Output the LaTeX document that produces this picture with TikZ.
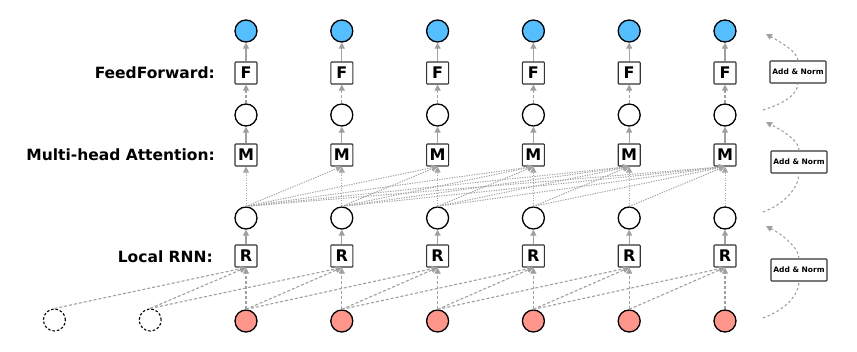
\documentclass[tikz,border=0pt]{standalone}
\usepackage{fontspec}
\setmainfont{DejaVu Sans}
\usetikzlibrary{arrows.meta}
\definecolor{bluec}{RGB}{85,190,255}
\definecolor{pinkc}{RGB}{255,150,140}
\definecolor{arr}{RGB}{160,160,160}
\definecolor{arrl}{RGB}{165,165,165}
\begin{document}
\begin{tikzpicture}[x=1pt,y=-1pt,
 circ/.style={circle,draw=black,line width=1.3pt,minimum size=22pt,inner sep=0pt,fill=white},
 dcirc/.style={circle,draw=black,line width=1.1pt,minimum size=22pt,inner sep=0pt,dash pattern=on 2.5pt off 2pt},
 opbox/.style={draw=black!80,line width=1.1pt,minimum size=22pt,inner sep=0pt,fill=white,rounded corners=0.8pt,font=\fontsize{16}{16}\selectfont\bfseries},
 lab/.style={anchor=east,inner sep=0pt,font=\fontsize{15.5}{16}\selectfont\bfseries},
 anbox/.style={draw=black!80,line width=1.1pt,minimum width=56pt,minimum height=22pt,inner sep=0pt,fill=white,rounded corners=0.8pt,font=\fontsize{7.5}{8}\selectfont\bfseries},
 tip/.style={-{Triangle[length=6pt,width=6pt]}},
 solidarr/.style={tip,draw=arr,line width=1.2pt},
 dasharr/.style={tip,draw=arr,line width=1.1pt,dash pattern=on 3pt off 2pt},
 dotarr/.style={tip,draw=arrl,line width=1pt,dash pattern=on 1.3pt off 1.2pt},
 curvarr/.style={draw=arr,line width=1.1pt,dash pattern=on 2.5pt off 2.5pt},
]
\useasboundingbox (0,0) rectangle (857,351);

% dashed padding circles
\node[dcirc] (p1) at (54.4,320) {};
\node[dcirc] (p2) at (150.2,320) {};

% columns
\foreach \k in {3,...,8}{
  \pgfmathsetmacro\xx{54.4+95.8*(\k-1)}
  \node[circ,fill=pinkc] (p\k) at (\xx,321) {};
  \node[opbox] (r\k) at (\xx,256) {R};
  \node[circ] (h\k) at (\xx,218) {};
  \node[opbox] (m\k) at (\xx,155) {M};
  \node[circ] (w\k) at (\xx,115) {};
  \node[opbox] (f\k) at (\xx,73) {F};
  \node[circ,fill=bluec] (b\k) at (\xx,31) {};
}

% labels
\node[lab] (lff) at (215,73) {FeedForward:};
\node[lab] (lmh) at (215,155) {Multi-head Attention:};
\node[lab] (lrn) at (213,257) {Local RNN:};

% local RNN connections (window of 3)
\foreach \k in {3,...,8}{
  \foreach \d in {0,1,2}{
    \pgfmathtruncatemacro\s{\k-\d}
    \draw[dasharr] (p\s.north) -- (r\k.south);
  }
  \draw[solidarr] (r\k.north) -- (h\k.south);
  \draw[solidarr] (m\k.north) -- (w\k.south);
  \draw[dasharr] (w\k.north) -- (f\k.south);
  \draw[solidarr] (f\k.north) -- (b\k.south);
}

% causal attention connections
\foreach \j in {3,...,8}{
  \foreach \i in {3,...,\j}{
    \draw[dotarr] (h\i.north) -- (m\j.south);
  }
}

% Add & Norm
\coordinate (s1) at (763,110);
\coordinate (e1) at (766,34);
\coordinate (s2) at (763,212);
\coordinate (e2) at (766,122);
\coordinate (s3) at (763,318);
\coordinate (e3) at (766,226);
\node[anbox] (an1) at (798,72) {Add \& Norm};
\node[anbox] (an2) at (799,162) {Add \& Norm};
\node[anbox] (an3) at (799,270) {Add \& Norm};

\draw[curvarr] (s1) .. controls (785,103) and (797,95) .. (an1.south);
\draw[curvarr,tip] (an1.north) .. controls (797,52) and (784,44) .. (e1);
\draw[curvarr] (s2) .. controls (785,204) and (799,187) .. (an2.south);
\draw[curvarr,tip] (an2.north) .. controls (799,141) and (785,132) .. (e2);
\draw[curvarr] (s3) .. controls (785,310) and (799,295) .. (an3.south);
\draw[curvarr,tip] (an3.north) .. controls (799,249) and (785,236) .. (e3);
\end{tikzpicture}
\end{document}
